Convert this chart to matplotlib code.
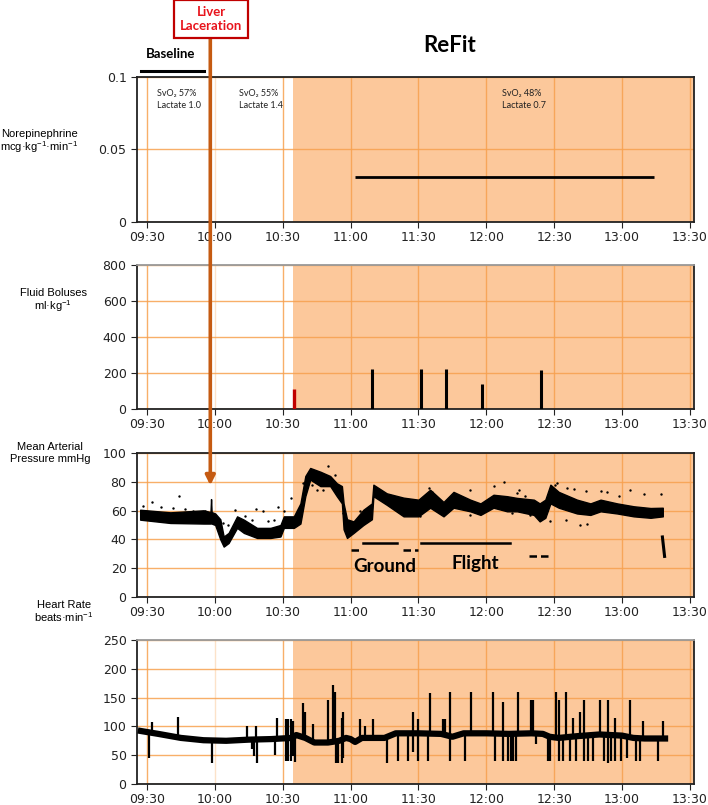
import pandas as pd
import numpy as np
import matplotlib
matplotlib.use('Agg')
import matplotlib.pyplot as plt
import matplotlib.dates as mdates


def ts(times):
    return pd.to_datetime(['2021-01-01 ' + s for s in times], format='mixed')


# ---- data ----
x_start, x_end = '09:25:36', '13:31:48'
refit_start = '10:34:24'
liver_time = '09:58:00'
tick_times = ['09:30', '10:00', '10:30', '11:00', '11:30', '12:00', '12:30', '13:00', '13:30']

# blood gas notes
note_times = ['09:34:24', '10:10:40', '12:07:00']
note_texts = ['SvO\u2082 57%\nLactate 1.0', 'SvO\u2082 55%\nLactate 1.4', 'SvO\u2082 48%\nLactate 0.7']

# norepinephrine infusion
ne_times = ['11:01:48', '13:14:10']
ne_dose = [0.031, 0.031]

# fluid boluses
bolus_red_times = ['10:35:10']
bolus_red_vol = [110]
bolus_times = ['11:09:40', '11:31:00', '11:42:00', '11:58:00', '12:24:00']
bolus_vol = [220, 220, 220, 140, 215]

# mean arterial pressure: band of readings (low / high edge)
map_times = ['09:27:00', '09:40:20', '09:55:00', '09:58:05', '09:58:20', '09:58:35', '10:00:10',
             '10:02:25', '10:03:55', '10:06:05', '10:09:50', '10:12:50', '10:18:40', '10:24:35',
             '10:29:00', '10:30:30', '10:34:55', '10:37:50', '10:40:00', '10:42:10', '10:46:40',
             '10:51:00', '10:53:55', '10:56:10', '10:56:55', '10:58:25', '11:01:20', '11:05:40',
             '11:09:25', '11:10:05', '11:16:00', '11:23:25', '11:30:00', '11:35:10', '11:41:05',
             '11:45:30', '11:52:55', '11:57:25', '12:03:10', '12:09:10', '12:13:35', '12:21:00',
             '12:23:35', '12:26:05', '12:28:20', '12:32:00', '12:40:05', '12:46:00', '12:50:30',
             '12:57:50', '13:05:10', '13:12:35', '13:18:00']
map_hi = [60.6, 58.8, 60.2, 59, 68, 59, 58,
          54, 42, 44.5, 56, 53.7, 48, 48,
          50, 56, 56, 65, 84, 89.6, 87,
          84, 79, 77, 65, 54, 52.5, 60.6,
          65, 78, 72, 69, 67.6, 74.5, 66,
          73, 67.6, 65, 71, 70, 68.8, 67.6,
          65, 67.6, 78, 73, 67.6, 65, 67.6,
          65, 63, 61.8, 62]
map_lo = [53.7, 51.4, 51, 51, 52, 51, 50,
          40, 35, 37.5, 48, 44.5, 41, 41,
          42, 48, 48, 51, 70, 81.5, 77,
          77, 70, 65, 47, 41, 44.5, 50,
          54, 70, 64, 56, 56, 62, 56,
          62, 59.5, 57, 62, 59.5, 59.5, 57,
          52.5, 55, 65, 62, 58, 57, 59.5,
          58, 56, 55, 56]
map_tail_times = ['13:17:50', '13:18:48']
map_tail_vals = [41.7, 28.2]

# scattered MAP readings off the band
map_dot_times = ['09:28:12', '09:32:13', '09:36:12', '09:41:30', '09:44:00', '09:47:00', '09:50:22',
                 '09:55:40', '10:03:36', '10:05:42', '10:08:48', '10:13:30', '10:16:30', '10:18:00',
                 '10:21:20', '10:23:30', '10:26:00', '10:27:48', '10:30:30', '10:33:42', '10:38:54',
                 '10:43:01', '10:45:12', '10:48:00', '10:50:12', '10:53:12', '10:56:50', '11:04:15',
                 '11:21:04', '11:30:48', '11:34:30', '11:36:06', '11:52:54', '11:52:56', '12:03:12',
                 '12:07:42', '12:11:24', '12:13:44', '12:14:18', '12:17:12', '12:19:30', '12:28:19',
                 '12:30:30', '12:31:26', '12:35:06', '12:35:42', '12:38:36', '12:41:36', '12:44:00',
                 '12:44:30', '12:50:30', '12:53:24', '12:58:36', '13:03:42', '13:09:36', '13:17:24']
map_dot_vals = [63.4, 66, 62.5, 62, 70.4, 61, 60,
                60, 51.4, 50, 60.6, 56, 53.7, 61,
                60, 52.5, 53.7, 62.5, 59.5, 68.8, 79,
                78, 74.5, 74.5, 90.7, 85, 58, 60,
                68, 56, 75.7, 73, 74, 57, 77,
                79.6, 58, 72, 74.5, 70.4, 57, 53,
                78, 79, 53.7, 75.7, 75, 50, 73.4,
                50.7, 73.4, 72.7, 70.4, 74.5, 71.8, 71.8]

# transport phases (start, end, level, dashed?)
phase_starts = ['11:00:00', '11:05:30', '11:23:00', '11:31:00', '12:19:00']
phase_ends = ['11:05:00', '11:20:36', '11:30:00', '12:10:40', '12:29:00']
phase_levels = [32.5, 37.5, 32.5, 37.5, 28.8]
phase_dashed = [True, False, True, False, True]
phase_labels = ['Ground', 'Flight']
phase_label_times = ['11:15:00', '11:55:00']
phase_label_vals = [21.3, 23]

# heart rate trace (main band)
hr_times = ['09:27:20', '09:35', '09:45', '09:55', '10:05', '10:15', '10:25', '10:34', '10:36',
            '10:40', '10:44', '10:50', '10:55', '10:58', '11:00', '11:02', '11:05', '11:10',
            '11:15', '11:20', '11:30', '11:40', '11:45', '11:50', '12:00', '12:10', '12:20',
            '12:25', '12:28', '12:32', '12:40', '12:50', '13:00', '13:05', '13:10', '13:19']
hr_vals = [92, 87, 80, 76, 75, 77, 78, 80, 85,
           80, 72, 72, 75, 80, 78, 73, 80, 80,
           80, 88, 88, 87, 82, 88, 88, 87, 88,
           87, 82, 80, 83, 86, 84, 80, 79, 79]

# heart rate artefact spikes (time, peak value)
hr_spike_times = ['09:30:53', '09:32:13', '09:43:43', '09:58:46', '10:14:15', '10:16:28', '10:17:21',
                  '10:18:14', '10:18:40', '10:26:38', '10:27:32', '10:31:30', '10:31:30', '10:32:24',
                  '10:32:24', '10:33:43', '10:33:43', '10:34:36', '10:34:36', '10:35:29', '10:39:02',
                  '10:39:55', '10:43:27', '10:50:06', '10:52:18', '10:53:11', '10:53:38', '10:54:31',
                  '10:56:17', '10:56:17', '10:56:44', '10:56:44', '11:04:15', '11:06:28', '11:10:00',
                  '11:16:12', '11:21:04', '11:25:30', '11:27:42', '11:27:42', '11:29:55', '11:29:55',
                  '11:34:20', '11:35:13', '11:41:00', '11:41:52', '11:44:05', '11:44:05', '11:50:43',
                  '11:53:22', '12:03:06', '12:04:00', '12:07:32', '12:07:32', '12:09:45', '12:11:04',
                  '12:11:57', '12:13:17', '12:14:10', '12:19:55', '12:20:48', '12:22:08', '12:27:26',
                  '12:28:19', '12:31:00', '12:32:18', '12:32:18', '12:34:05', '12:35:24', '12:37:11',
                  '12:38:30', '12:39:50', '12:41:36', '12:43:23', '12:43:23', '12:45:09', '12:47:22',
                  '12:50:27', '12:51:48', '12:53:34', '12:53:34', '12:55:19', '12:57:06', '12:57:06',
                  '12:59:44', '13:02:24', '13:03:43', '13:06:23', '13:08:09', '13:09:28', '13:15:40',
                  '13:17:54']
hr_spike_vals = [45, 107, 116, 36, 100, 60, 48,
                 100, 37, 50, 115, 112, 40, 113,
                 40, 112, 40, 110, 48, 38, 140,
                 125, 105, 145, 172, 160, 37, 37,
                 37, 115, 45, 125, 112, 100, 113,
                 37, 40, 40, 125, 55, 112, 40,
                 40, 158, 113, 113, 160, 40, 40,
                 160, 160, 40, 143, 40, 40, 40,
                 40, 40, 160, 145, 145, 70, 40,
                 40, 160, 145, 40, 40, 160, 40,
                 115, 40, 125, 145, 40, 40, 40,
                 145, 40, 145, 37, 40, 115, 40,
                 40, 45, 145, 40, 40, 110, 40,
                 110]

# ---- styling ----
shade = '#FCC89B'
grid_c = '#F7A14F'
liver_c = '#C55A11'
bold_font = ['Lato', 'DejaVu Sans']
label_font = ['Liberation Sans', 'DejaVu Sans']

plt.rcParams['font.family'] = ['DejaVu Sans']
plt.rcParams['xtick.labelsize'] = 9
plt.rcParams['ytick.labelsize'] = 9
plt.rcParams['mathtext.fontset'] = 'custom'
plt.rcParams['mathtext.rm'] = 'Liberation Sans'

fig = plt.figure(figsize=(7.08, 8.05), dpi=100)
W, H = 708, 805
left, right = 137 / W, 694 / W
tops = [77, 265, 453, 640]
bots = [222, 409, 597, 784]
axes = [fig.add_axes([left, 1 - b / H, right - left, (b - t) / H]) for t, b in zip(tops, bots)]

ylims = [(0, 0.1), (0, 800), (0, 100), (0, 250)]
yticks = [[0, 0.05, 0.1], [0, 200, 400, 600, 800], [0, 20, 40, 60, 80, 100], [0, 50, 100, 150, 200, 250]]
sup = r'$^{\mathrm{-1}}$'
ylabels = ['Norepinephrine\nmcg\u00b7kg' + sup + '\u00b7min' + sup, 'Fluid Boluses\nml\u00b7kg' + sup,
           'Mean Arterial\nPressure mmHg', 'Heart Rate\nbeats\u00b7min' + sup]
ylabel_pos = [(39, 142), (53, 301), (50, 453), (64, 612)]
ylabel_spacing = [1.0, 1.0, 1.3, 1.0]

xlo, xhi = ts([x_start, x_end])
for i, ax in enumerate(axes):
    ax.axvspan(ts([refit_start])[0], xhi, color=shade, lw=0, zorder=0)
    ax.set_xlim(xlo, xhi)
    ax.set_ylim(*ylims[i])
    ax.set_yticks(yticks[i])
    ax.set_xticks(ts(tick_times))
    ax.xaxis.set_major_formatter(mdates.DateFormatter('%H:%M'))
    ax.grid(True, color=grid_c, lw=1, alpha=0.85, zorder=1)
    ax.set_axisbelow(True)
    ax.xaxis.get_gridlines()[1].set_alpha(0.3)
    for s in ax.spines.values():
        s.set_linewidth(1.3)
        s.set_color('#222222')
    if i in (1, 3):
        ax.spines['top'].set_color('#999999')
    ax.tick_params(colors='#222222', length=4)
    ax.tick_params(axis='x', pad=2.5)
    fx, fy = ylabel_pos[i]
    fig.text(fx / W, 1 - fy / H, ylabels[i], ha='center', va='center', fontsize=8,
             family=label_font, linespacing=ylabel_spacing[i])

axes[0].set_yticklabels(['0', '0.05', '0.1'])

# panel 1: norepinephrine
ax = axes[0]
ax.plot(ts(ne_times), ne_dose, color='black', lw=2, solid_capstyle='butt')
for t, txt in zip(note_times, note_texts):
    ax.text(ts([t])[0], 0.0915, txt, fontsize=6.5, family=bold_font, va='top', ha='left',
            linespacing=1.35, color='#222222')
ax.plot(ts(['09:27:18', '09:55:12']), [1.041, 1.041], color='black', lw=2.2,
        transform=ax.get_xaxis_transform(), clip_on=False)
ax.text(ts(['09:40:36'])[0], 1.159, 'Baseline', transform=ax.get_xaxis_transform(),
        ha='center', va='center', fontsize=9.5, fontweight='bold', family=bold_font)
ax.text(ts(['11:43:36'])[0], 1.22, 'ReFit', transform=ax.get_xaxis_transform(),
        ha='center', va='center', fontsize=16, fontweight='bold', family=bold_font)

# panel 2: fluid boluses
ax = axes[1]
ax.vlines(ts(bolus_red_times), 0, bolus_red_vol, color='#C00000', lw=2.4, zorder=3)
ax.vlines(ts(bolus_times), 0, bolus_vol, color='black', lw=2.2, zorder=3)

# panel 3: MAP
ax = axes[2]
ax.fill_between(ts(map_times), map_lo, map_hi, color='black', lw=1, edgecolor='black', zorder=3)
ax.plot(ts(map_tail_times), map_tail_vals, color='black', lw=2.2, zorder=3)
ax.scatter(ts(map_dot_times), map_dot_vals, s=3, color='black', zorder=3, lw=0)
for t0, t1, lev, dashed in zip(phase_starts, phase_ends, phase_levels, phase_dashed):
    ax.plot(ts([t0, t1]), [lev, lev], color='black', lw=1.8, zorder=3,
            ls=(0, (3, 1.6)) if dashed else '-')
for t, v, txt in zip(phase_label_times, phase_label_vals, phase_labels):
    ax.text(ts([t])[0], v, txt, ha='center', va='center', fontsize=13.5, fontweight='bold',
            family=bold_font, zorder=4)

# panel 4: heart rate
ax = axes[3]
hr_t = ts(hr_times)
ax.plot(hr_t, hr_vals, color='black', lw=4.5, zorder=3)
sp_t = ts(hr_spike_times)
base = np.interp(mdates.date2num(sp_t), mdates.date2num(hr_t), hr_vals)
ax.vlines(sp_t, base, hr_spike_vals, color='black', lw=1.6, zorder=3)

# liver laceration marker
lt = ts([liver_time])[0]
axes[2].annotate('', xy=(lt, 77.5), xycoords='data', xytext=(lt, 1 - 38 / H),
                 textcoords=('data', 'figure fraction'),
                 arrowprops=dict(arrowstyle='-|>', color=liver_c, lw=2.6, mutation_scale=14,
                                 shrinkA=0, shrinkB=0), annotation_clip=False, zorder=10)
fig.text(211 / W, 1 - 19 / H, 'Liver\nLaceration', ha='center', va='center', fontsize=9.5,
         fontweight='bold', family=bold_font, color='#E8141C', linespacing=1.25,
         bbox=dict(boxstyle='square,pad=0.45', facecolor='white', edgecolor='#C00000', lw=1.6))

plt.savefig('out.png', dpi=100)
